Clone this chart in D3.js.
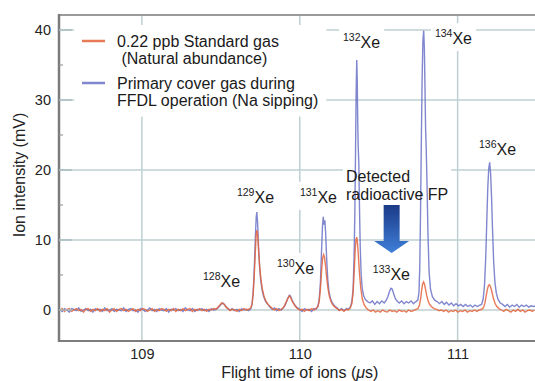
<!DOCTYPE html>
<html>
<head>
<meta charset="utf-8">
<script src="https://cdn.jsdelivr.net/npm/d3@7"></script>
<style>
  body { margin: 0; background: #fff; }
  svg { display: block; font-family: "Liberation Sans", Arial, sans-serif; }
</style>
</head>
<body>
<svg id="chart" width="535" height="381"></svg>
<script>
// axis ticks
const xTicks = [109, 110, 111];
const yTicks = [0, 10, 20, 30, 40];
const yMinorTicks = [5, 15, 25, 35];

// primary cover gas (blue) trace: [flight time us, mV]
const coverGas = [
  [108.480, 0.1],[108.495,-0.2],[108.510, 0.2],[108.525, 0.0],[108.540,-0.3],[108.555, 0.2],
  [108.570, 0.1],[108.585,-0.1],[108.600, 0.3],[108.615,-0.2],[108.630, 0.0],[108.645, 0.2],
  [108.660,-0.1],[108.675, 0.1],[108.690,-0.3],[108.705, 0.2],[108.720, 0.0],[108.735, 0.1],
  [108.750,-0.2],[108.765, 0.3],[108.780,-0.1],[108.795, 0.0],[108.810, 0.2],[108.825,-0.2],
  [108.840, 0.1],[108.855, 0.0],[108.870,-0.1],[108.885, 0.3],[108.900,-0.2],[108.915, 0.1],
  [108.930, 0.2],[108.945,-0.1],[108.960, 0.0],[108.975,-0.3],[108.990, 0.2],[109.005, 0.1],
  [109.020,-0.2],[109.035, 0.0],[109.050, 0.3],[109.065,-0.1],[109.080, 0.1],[109.095,-0.2],
  [109.110, 0.2],[109.125, 0.0],[109.140,-0.1],[109.155, 0.2],[109.170,-0.3],[109.185, 0.1],
  [109.200, 0.0],[109.215, 0.2],[109.230,-0.1],[109.245, 0.1],[109.260,-0.2],[109.275, 0.3],
  [109.290, 0.0],[109.305,-0.1],[109.320, 0.2],[109.335,-0.2],[109.350, 0.1],[109.365, 0.0],
  [109.380, 0.2],[109.395,-0.1],[109.410, 0.1],[109.425,-0.2],[109.440, 0.2],[109.455, 0.0],
  [109.470, 0.1],
  [109.482, 0.3],[109.494, 0.6],[109.505, 0.9],[109.513, 1.0],[109.522, 0.8],[109.532, 0.5],[109.545, 0.2],[109.558, 0.0],
  [109.572, 0.2],[109.587,-0.1],[109.602, 0.1],[109.617,-0.2],[109.632, 0.2],[109.647, 0.0],[109.662, 0.1],[109.677,-0.1],[109.690, 0.2],
  [109.698, 0.8],[109.705, 2.5],[109.712, 6.0],[109.719,10.5],[109.724,13.2],[109.728,14.0],[109.733,12.5],[109.739, 9.0],
  [109.746, 6.0],[109.753, 4.2],[109.762, 2.8],[109.772, 1.9],[109.784, 1.2],[109.798, 0.8],[109.812, 0.4],
  [109.826, 0.1],[109.840, 0.3],[109.854,-0.1],[109.868, 0.2],[109.882, 0.0],[109.895, 0.3],
  [109.905, 0.6],[109.915, 1.1],[109.925, 1.7],[109.934, 2.1],[109.941, 2.0],[109.950, 1.5],[109.960, 1.0],[109.972, 0.6],[109.985, 0.3],
  [110.000, 0.1],[110.015,-0.2],[110.030, 0.2],[110.045, 0.0],[110.060, 0.1],[110.075,-0.2],[110.090, 0.2],[110.103, 0.1],[110.115, 0.5],
  [110.123, 1.5],[110.131, 4.0],[110.138, 8.5],[110.144,12.0],[110.149,13.3],[110.154,12.2],[110.159,12.8],[110.164,11.0],
  [110.170, 7.5],[110.177, 4.5],[110.185, 2.6],[110.195, 1.6],[110.207, 1.0],[110.220, 0.6],[110.235, 0.3],
  [110.250, 0.0],[110.265, 0.2],[110.280,-0.1],[110.295, 0.2],[110.308, 0.1],[110.320, 0.4],
  [110.330, 1.2],[110.338, 3.0],[110.344, 7.5],[110.349,14.0],[110.353,22.0],[110.357,31.0],[110.361,35.7],[110.364,33.0],
  [110.367,27.0],[110.370,23.5],[110.374,21.0],[110.378,15.0],[110.383, 9.0],[110.389, 5.0],[110.396, 3.0],[110.405, 2.0],
  [110.416, 1.5],[110.430, 1.2],
  [110.445, 1.0],[110.460, 1.3],[110.475, 0.8],[110.490, 1.2],[110.505, 0.9],[110.520, 1.3],[110.535, 1.0],[110.548, 1.4],
  [110.558, 1.9],[110.568, 2.6],[110.577, 3.1],[110.585, 3.0],[110.594, 2.4],[110.604, 1.7],[110.615, 1.3],
  [110.630, 1.0],[110.645, 1.3],[110.660, 0.9],[110.675, 1.2],[110.690, 1.0],[110.705, 1.3],[110.720, 0.9],[110.735, 1.2],[110.748, 1.4],
  [110.755, 2.5],[110.760, 6.0],[110.765,14.0],[110.770,24.0],[110.775,33.0],[110.780,38.5],[110.785,39.9],[110.789,37.5],
  [110.793,32.0],[110.797,26.0],[110.801,23.0],[110.806,18.0],[110.812,11.0],[110.819, 5.5],[110.828, 3.0],[110.840, 1.9],[110.855, 1.4],
  [110.870, 1.2],[110.885, 0.9],[110.900, 1.2],[110.915, 0.8],[110.930, 1.1],[110.945, 0.7],[110.960, 1.0],[110.975, 0.6],
  [110.990, 0.9],[111.005, 0.6],[111.020, 0.8],[111.035, 0.5],[111.050, 0.8],[111.065, 0.5],[111.080, 0.7],[111.095, 0.4],
  [111.110, 0.7],[111.125, 0.5],[111.140, 0.7],[111.152, 0.8],
  [111.162, 1.6],[111.170, 3.5],[111.178, 7.5],[111.185,13.0],[111.191,17.5],[111.197,20.2],[111.203,21.1],[111.209,19.5],
  [111.215,16.0],[111.221,11.5],[111.228, 7.0],[111.236, 4.0],[111.245, 2.4],[111.256, 1.5],[111.270, 1.0],
  [111.285, 0.8],[111.300, 0.5],[111.315, 0.8],[111.330, 0.4],[111.345, 0.7],[111.360, 0.5],[111.375, 0.8],[111.390, 0.4],
  [111.405, 0.7],[111.420, 0.5],[111.435, 0.7],[111.450, 0.4],[111.465, 0.6],[111.480, 0.5],[111.495, 0.6]
];

// 0.22 ppb standard gas (red) trace
const standardGas = [
  [108.480,-0.1],[108.495, 0.2],[108.510,-0.2],[108.525, 0.1],[108.540, 0.2],[108.555,-0.2],
  [108.570, 0.0],[108.585, 0.2],[108.600,-0.1],[108.615, 0.1],[108.630,-0.3],[108.645, 0.1],
  [108.660, 0.2],[108.675,-0.2],[108.690, 0.1],[108.705,-0.1],[108.720, 0.2],[108.735,-0.2],
  [108.750, 0.1],[108.765,-0.1],[108.780, 0.2],[108.795,-0.3],[108.810, 0.0],[108.825, 0.2],
  [108.840,-0.2],[108.855, 0.1],[108.870, 0.2],[108.885,-0.1],[108.900, 0.1],[108.915,-0.2],
  [108.930, 0.0],[108.945, 0.2],[108.960,-0.2],[108.975, 0.1],[108.990,-0.1],[109.005, 0.2],
  [109.020, 0.1],[109.035,-0.2],[109.050, 0.0],[109.065, 0.2],[109.080,-0.2],[109.095, 0.1],
  [109.110,-0.1],[109.125, 0.2],[109.140, 0.1],[109.155,-0.2],[109.170, 0.1],[109.185,-0.1],
  [109.200, 0.2],[109.215,-0.2],[109.230, 0.1],[109.245,-0.1],[109.260, 0.2],[109.275,-0.1],
  [109.290, 0.1],[109.305, 0.2],[109.320,-0.2],[109.335, 0.1],[109.350,-0.1],[109.365, 0.2],
  [109.380,-0.1],[109.395, 0.1],[109.410,-0.2],[109.425, 0.1],[109.440, 0.0],[109.455, 0.2],
  [109.470, 0.1],
  [109.482, 0.4],[109.494, 0.7],[109.505, 1.0],[109.513, 0.9],[109.522, 0.8],[109.532, 0.4],[109.545, 0.2],[109.558,-0.1],
  [109.572, 0.1],[109.587, 0.0],[109.602,-0.2],[109.617, 0.1],[109.632,-0.1],[109.647, 0.2],[109.662, 0.0],[109.677, 0.1],[109.690, 0.3],
  [109.698, 0.9],[109.705, 2.4],[109.712, 5.0],[109.719, 8.5],[109.724,10.8],[109.729,11.4],[109.734,10.5],[109.740, 8.2],
  [109.747, 6.0],[109.754, 4.4],[109.763, 3.0],[109.773, 2.0],[109.785, 1.3],[109.799, 0.8],[109.813, 0.5],
  [109.826, 0.2],[109.840, 0.0],[109.854, 0.2],[109.868,-0.1],[109.882, 0.1],[109.895, 0.3],
  [109.905, 0.7],[109.915, 1.2],[109.925, 1.7],[109.934, 2.0],[109.942, 1.8],[109.951, 1.3],[109.961, 0.9],[109.973, 0.5],[109.986, 0.2],
  [110.000, 0.0],[110.015, 0.1],[110.030,-0.2],[110.045, 0.1],[110.060,-0.1],[110.075, 0.2],[110.090, 0.0],[110.103, 0.2],[110.115, 0.5],
  [110.123, 1.2],[110.131, 3.0],[110.138, 5.5],[110.145, 7.4],[110.151, 7.9],[110.157, 7.5],[110.164, 6.2],[110.171, 4.5],
  [110.179, 3.0],[110.188, 1.9],[110.198, 1.2],[110.210, 0.7],[110.223, 0.4],[110.237, 0.2],
  [110.250,-0.1],[110.265, 0.1],[110.280,-0.2],[110.295, 0.1],[110.308, 0.0],[110.320, 0.3],
  [110.330, 0.9],[110.338, 2.5],[110.345, 5.5],[110.351, 8.5],[110.356,10.0],[110.361,10.4],[110.366, 9.5],[110.372, 7.5],
  [110.379, 5.0],[110.387, 3.0],[110.396, 1.6],[110.407, 0.8],[110.420, 0.3],[110.435, 0.0],
  [110.450,-0.2],[110.465, 0.0],[110.480,-0.3],[110.495,-0.1],[110.510,-0.3],[110.525, 0.0],[110.540,-0.2],[110.555,-0.3],
  [110.570, 0.0],[110.585,-0.2],[110.600,-0.1],[110.615,-0.3],[110.630, 0.0],[110.645,-0.2],[110.660,-0.1],[110.675,-0.3],
  [110.690, 0.0],[110.705,-0.2],[110.720,-0.1],[110.735, 0.1],[110.748, 0.2],
  [110.757, 0.6],[110.765, 1.5],[110.772, 2.8],[110.778, 3.7],[110.784, 4.0],[110.790, 3.7],[110.797, 2.9],[110.805, 2.0],
  [110.814, 1.2],[110.825, 0.7],[110.838, 0.4],[110.852, 0.2],
  [110.867, 0.1],[110.882,-0.1],[110.897, 0.0],[110.912,-0.2],[110.927, 0.0],[110.942,-0.3],[110.957,-0.1],[110.972,-0.2],
  [110.987, 0.0],[111.002,-0.3],[111.017,-0.1],[111.032,-0.2],[111.047, 0.0],[111.062,-0.3],[111.077,-0.1],[111.092,-0.2],
  [111.107, 0.0],[111.122,-0.2],[111.137, 0.0],[111.152, 0.1],[111.163, 0.3],
  [111.172, 0.9],[111.180, 1.9],[111.188, 2.9],[111.195, 3.5],[111.202, 3.6],[111.209, 3.3],[111.217, 2.6],[111.226, 1.7],
  [111.236, 1.0],[111.248, 0.5],[111.262, 0.2],
  [111.277, 0.0],[111.292,-0.2],[111.307, 0.1],[111.322,-0.1],[111.337,-0.3],[111.352, 0.0],[111.367,-0.2],[111.382, 0.1],
  [111.397,-0.2],[111.412, 0.0],[111.427,-0.3],[111.442,-0.1],[111.457, 0.0],[111.472,-0.2],[111.487, 0.0]
];

// isotope annotations (label anchor in data units)
const isoMass = [128, 129, 130, 131, 132, 133, 134, 136];
const isoLabelT = [109.387, 109.602, 109.856, 110.001, 110.274, 110.463, 110.856, 111.135];
const isoLabelV = [3.29, 15.29, 5.14, 15.29, 37.43, 4.29, 38.0, 22.14];

const legendNames = [
  ['0.22 ppb Standard gas', ' (Natural abundance)'],
  ['Primary cover gas during', 'FFDL operation (Na sipping)']
];
const noteLines = ['Detected', 'radioactive FP'];

const svg = d3.select('#chart');
const pLeft = 59, pRight = 535, pTop = 15, pBottom = 341;

const x = d3.scaleLinear().domain([108.475, 111.49]).range([pLeft, pRight]);
const y = d3.scaleLinear().domain([-4.43, 42.14]).range([pBottom, pTop]);

const gridColor = '#bfd0d2';
const blue = '#6a72c6';
const red = '#e5633a';

const defs = svg.append('defs');
defs.append('clipPath').attr('id', 'plotClip')
  .append('rect').attr('x', pLeft).attr('y', pTop).attr('width', pRight - pLeft).attr('height', pBottom - pTop);

const grad = defs.append('linearGradient')
  .attr('id', 'arrowGrad').attr('x1', 0).attr('y1', 0).attr('x2', 0).attr('y2', 1);
grad.append('stop').attr('offset', '0%').attr('stop-color', '#1b3a88');
grad.append('stop').attr('offset', '100%').attr('stop-color', '#3f80d8');

// grid
const grid = svg.append('g');
grid.selectAll('.hg').data(yTicks).enter().append('line')
  .attr('x1', pLeft).attr('x2', pRight)
  .attr('y1', d => y(d)).attr('y2', d => y(d))
  .attr('stroke', gridColor).attr('stroke-width', 1.5);
grid.selectAll('.vg').data(xTicks).enter().append('line')
  .attr('x1', d => x(d)).attr('x2', d => x(d))
  .attr('y1', pTop).attr('y2', pBottom)
  .attr('stroke', gridColor).attr('stroke-width', 1.5);

const bgLayer = svg.append('g');
const traceLayer = svg.append('g').attr('clip-path', 'url(#plotClip)');
const textLayer = svg.append('g');

// traces
const line = d3.line().x(d => x(d[0])).y(d => y(d[1]));
traceLayer.append('path').datum(coverGas)
  .attr('d', line).attr('fill', 'none')
  .attr('stroke', blue).attr('stroke-width', 1.4).attr('stroke-opacity', 0.85);
traceLayer.append('path').datum(standardGas)
  .attr('d', line).attr('fill', 'none')
  .attr('stroke', red).attr('stroke-width', 1.4).attr('stroke-opacity', 0.85);

// frame
svg.append('line').attr('x1', pLeft).attr('x2', pRight).attr('y1', pTop).attr('y2', pTop)
  .attr('stroke', '#9a9a9a').attr('stroke-width', 2);
svg.append('line').attr('x1', pLeft).attr('x2', pRight).attr('y1', pBottom).attr('y2', pBottom)
  .attr('stroke', '#7c7c7c').attr('stroke-width', 2);
svg.append('line').attr('x1', pLeft).attr('x2', pLeft).attr('y1', pTop - 1).attr('y2', pBottom + 1)
  .attr('stroke', '#7c7c7c').attr('stroke-width', 2.5);

// inner ticks on the y axis
svg.selectAll('.ytk').data(yTicks).enter().append('line')
  .attr('x1', pLeft).attr('x2', pLeft + 13)
  .attr('y1', d => y(d)).attr('y2', d => y(d))
  .attr('stroke', '#a9bdc0').attr('stroke-width', 1.5);
svg.selectAll('.ymn').data(yMinorTicks).enter().append('line')
  .attr('x1', pLeft).attr('x2', pLeft + 4)
  .attr('y1', d => y(d)).attr('y2', d => y(d))
  .attr('stroke', '#999').attr('stroke-width', 1.2);

// axes labels
const yAxis = svg.append('g').attr('transform', `translate(${pLeft},0)`)
  .call(d3.axisLeft(y).tickValues(yTicks).tickSize(0).tickPadding(8));
yAxis.select('.domain').remove();
yAxis.selectAll('text').attr('font-size', 14.5).attr('fill', '#222')
  .attr('font-family', '"Liberation Sans", Arial, sans-serif');

const xAxis = svg.append('g').attr('transform', `translate(0,${pBottom})`)
  .call(d3.axisBottom(x).tickValues(xTicks).tickFormat(d3.format('d')).tickSize(0).tickPadding(8));
xAxis.select('.domain').remove();
xAxis.selectAll('text').attr('font-size', 14.5).attr('fill', '#222')
  .attr('font-family', '"Liberation Sans", Arial, sans-serif');

const xTitle = svg.append('text')
  .attr('x', x(110)).attr('y', 378)
  .attr('text-anchor', 'middle').attr('font-size', 16).attr('fill', '#222');
xTitle.append('tspan').text('Flight time of ions (');
xTitle.append('tspan').attr('font-style', 'italic').text('\u03bc');
xTitle.append('tspan').text('s)');

svg.append('text')
  .attr('transform', 'translate(25,175) rotate(-90)')
  .attr('text-anchor', 'middle').attr('font-size', 16).attr('fill', '#222')
  .text('Ion intensity (mV)');

// legend
const legend = textLayer.append('g');
const legendColors = [red, blue];
const legendRowY = [41, 83];
legendNames.forEach((lines, i) => {
  legend.append('line')
    .attr('x1', 82).attr('x2', 105)
    .attr('y1', legendRowY[i]).attr('y2', legendRowY[i])
    .attr('stroke', legendColors[i]).attr('stroke-width', 2.5).attr('stroke-opacity', 0.85);
  const t = legend.append('text').attr('font-size', 16).attr('fill', '#1a1a1a')
    .attr('xml:space', 'preserve');
  lines.forEach((s, j) => {
    t.append('tspan').attr('x', 117).attr('y', legendRowY[i] + 6 + j * 16.5).text(s);
  });
});

// isotope labels
const isoLabels = isoMass.map((m, i) => {
  const t = textLayer.append('text')
    .attr('x', x(isoLabelT[i])).attr('y', y(isoLabelV[i]))
    .attr('fill', '#1a1a1a');
  t.append('tspan').attr('font-size', 10.5).attr('dy', -7).text(m);
  t.append('tspan').attr('font-size', 16).attr('dy', 7).text('Xe');
  return t;
});

// detected FP note and arrow
const noteT = 110.293, noteV = 18.29;
const note = textLayer.append('text').attr('font-size', 16).attr('fill', '#1a1a1a');
noteLines.forEach((s, j) => {
  note.append('tspan').attr('x', x(noteT)).attr('y', y(noteV) + j * 18).text(s);
});

const arrowT = 110.582, arrowTipV = 8.14, arrowTopV = 15.0;
const ax = x(arrowT), tipY = y(arrowTipV), topY = y(arrowTopV);
const shaftW = 8, headW = 17.5, headH = 12;
textLayer.append('path')
  .attr('d', `M${ax - shaftW},${topY} L${ax + shaftW},${topY} L${ax + shaftW},${tipY - headH}
    L${ax + headW},${tipY - headH} L${ax},${tipY} L${ax - headW},${tipY - headH}
    L${ax - shaftW},${tipY - headH} Z`)
  .attr('fill', 'url(#arrowGrad)');

// white backgrounds behind legend and labels (hide gridlines)
function addBg(node, pad) {
  const b = node.getBBox();
  bgLayer.append('rect')
    .attr('x', b.x - pad).attr('y', b.y - pad)
    .attr('width', b.width + 2 * pad).attr('height', b.height + 2 * pad)
    .attr('fill', '#fff');
}
addBg(legend.node(), 8);
isoLabels.forEach(t => addBg(t.node(), 4));
addBg(note.node(), 3);
</script>
</body>
</html>
